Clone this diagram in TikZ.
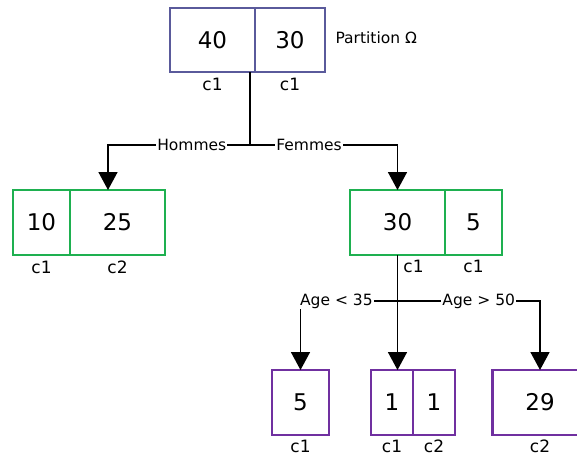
\documentclass[tikz,border=0pt]{standalone}
\usepackage{fontspec}
\setmainfont{DejaVu Sans}
\usetikzlibrary{positioning,arrows.meta}
\definecolor{topblue}{RGB}{90,90,155}
\definecolor{midgreen}{RGB}{30,176,80}
\definecolor{lowpurple}{RGB}{112,48,160}
\begin{document}
\begin{tikzpicture}[
  x=1pt, y=-1pt,
  cell/.style={rectangle, draw=#1, line width=2.8pt, outer sep=0pt, minimum height=65pt, font=\fontsize{23}{27}\selectfont},
  cls/.style={inner sep=2pt, font=\fontsize{17}{20}\selectfont},
  onl/.style={fill=white, inner sep=1pt, font=\fontsize{15.5}{18}\selectfont},
  conn/.style={line width=1.6pt},
  arr/.style={conn, -{Triangle[width=19pt,length=18pt]}}
]
\useasboundingbox (0,0) rectangle (577,458);

\node[cell=topblue, minimum width=85pt, minimum height=64pt] (cell40) at (212.5,40) {40};
\node[cell=topblue, minimum width=70pt, minimum height=64pt, right=0pt of cell40] (cell30) {30};
\node[right=7pt of cell30, yshift=2pt, font=\fontsize{15.5}{18}\selectfont] (omega) {Partition Ω};
\node[cls, below=4pt of cell40] (c40) {c1};
\node[cls, below=4pt of cell30] (c30) {c1};

\node[cell=midgreen, minimum width=57pt] (cell10) at (41.5,222.5) {10};
\node[cell=midgreen, minimum width=95pt, right=0pt of cell10] (cell25) {25};
\node[cls, below=4pt of cell10] (c10) {c1};
\node[cls, below=4pt of cell25] (c25) {c2};

\node[cell=midgreen, minimum width=95pt] (cell30b) at (397.5,222.5) {30};
\node[cell=midgreen, minimum width=57pt, right=0pt of cell30b] (cell5) {5};
\node[cls, below=3pt of cell30b, xshift=16pt] (c30b) {c1};
\node[cls, below=3pt of cell5] (c5) {c1};

\node[cell=lowpurple, minimum width=57pt] (cell5b) at (300.5,402.5) {5};
\node[cell=lowpurple, minimum width=42pt] (cell1a) at (392,402.5) {1};
\node[cell=lowpurple, minimum width=42pt, right=0pt of cell1a] (cell1b) {1};
\node[cell=lowpurple, minimum width=95pt] (cell29) at (540,402.5) {29};
\node[cls, below=3pt of cell5b] (c5b) {c1};
\node[cls, below=3pt of cell1a] (c1a) {c1};
\node[cls, below=3pt of cell1b] (c1b) {c2};
\node[cls, below=3pt of cell29] (c29) {c2};

\coordinate (fork1) at (250,145);
\coordinate (homme) at (108,145);
\coordinate (fork2) at (397.5,301);

\draw[conn] (fork1 |- cell40.south) -- (fork1);
\draw[arr] (fork1) -- node[onl, pos=.41] {Hommes} (homme) -- (homme |- cell25.north);
\draw[arr] (fork1) -- node[onl, pos=.4] {Femmes} (fork1 -| cell30b.north) -- (cell30b.north);

\draw[arr] (cell30b.south) -- (cell30b.south |- cell1a.north);
\draw[arr] (fork2) -- node[onl, pos=.63] {Age < 35} (fork2 -| cell5b.north) -- (cell5b.north);
\draw[arr] (fork2) -- node[onl, pos=.57] {Age > 50} (fork2 -| cell29.north) -- (cell29.north);
\end{tikzpicture}
\end{document}
